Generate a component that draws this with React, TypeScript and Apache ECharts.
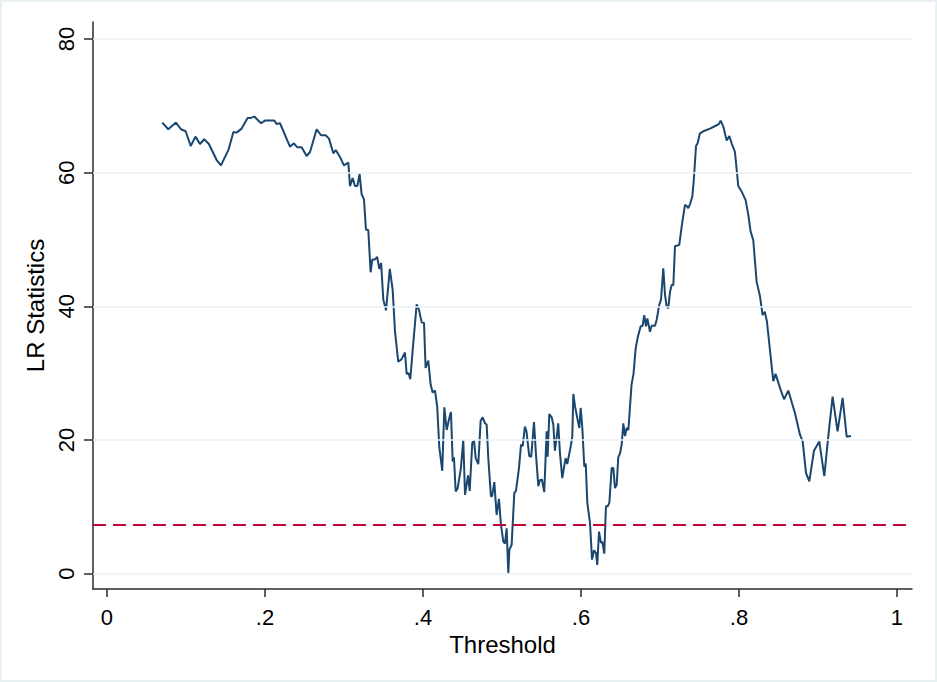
import React, { useEffect, useRef } from "react";
import * as echarts from "echarts";

const thresholds = [
  0.070, 0.0776, 0.0873, 0.0937, 0.0996, 0.106, 0.112, 0.1177, 0.123, 0.129,
  0.1388, 0.1443, 0.154, 0.160, 0.164, 0.1704, 0.178, 0.182, 0.1865, 0.195,
  0.200, 0.2118, 0.2147, 0.219, 0.2316, 0.2366, 0.241, 0.2464, 0.2527, 0.257,
  0.2654, 0.2709, 0.2768, 0.281, 0.2865, 0.2895, 0.2948, 0.2999, 0.3055, 0.3076,
  0.311, 0.3139, 0.3169, 0.3198, 0.3223, 0.3253, 0.3278, 0.3308, 0.3337, 0.3358,
  0.339, 0.342, 0.3447, 0.347, 0.3498, 0.3532, 0.358, 0.3616, 0.3646, 0.3687,
  0.3729, 0.3772, 0.3793, 0.3818, 0.3839, 0.3877, 0.392, 0.3949, 0.3983, 0.4013,
  0.4033, 0.4067, 0.4097, 0.4122, 0.4152, 0.418, 0.4206, 0.4244, 0.427, 0.430,
  0.4333, 0.4354, 0.4376, 0.4392, 0.4414, 0.4439, 0.448, 0.451, 0.4532, 0.457,
  0.4591, 0.4624, 0.4646, 0.4667, 0.470, 0.473, 0.4755, 0.4785, 0.4806, 0.4827,
  0.486, 0.4875, 0.4903, 0.4932, 0.4962, 0.4987, 0.5017, 0.5038, 0.5059, 0.508,
  0.5093, 0.5122, 0.5156, 0.5177, 0.5215, 0.5241, 0.5262, 0.529, 0.531, 0.5345,
  0.537, 0.5405, 0.543, 0.546, 0.548, 0.5505, 0.5535, 0.5565, 0.5578, 0.5599,
  0.5629, 0.565, 0.567, 0.5692, 0.5712, 0.5734, 0.5763, 0.5785, 0.5806, 0.5826,
  0.5869, 0.589, 0.5903, 0.5925, 0.5958, 0.5979, 0.5996, 0.6017, 0.6042, 0.606,
  0.608, 0.6114, 0.614, 0.6165, 0.619, 0.6206, 0.6228, 0.6253, 0.627, 0.6295,
  0.6316, 0.6338, 0.6359, 0.6388, 0.641, 0.643, 0.6452, 0.6472, 0.6494, 0.6515,
  0.6536, 0.6557, 0.6578, 0.66, 0.664, 0.6665, 0.6692, 0.6719, 0.6755, 0.678,
  0.6801, 0.6823, 0.684, 0.6873, 0.6894, 0.6937, 0.6958, 0.699, 0.7013, 0.7042,
  0.7063, 0.7084, 0.7105, 0.7127, 0.7148, 0.7169, 0.719, 0.7244, 0.7274, 0.7316,
  0.7338, 0.7358, 0.738, 0.7409, 0.743, 0.7456, 0.7476, 0.7506, 0.7548, 0.7633,
  0.7717, 0.7747, 0.7768, 0.7802, 0.7844, 0.7877, 0.7907, 0.7949, 0.7991, 0.8033,
  0.8084, 0.8118, 0.8147, 0.8181, 0.8223, 0.8266, 0.8299, 0.8327, 0.8354, 0.8434,
  0.8463, 0.8519, 0.857, 0.8624, 0.8709, 0.8772, 0.8806, 0.8848, 0.889, 0.8949,
  0.9016, 0.908, 0.913, 0.9185, 0.9248, 0.9312, 0.9363, 0.9418,
];

const lrStats = [
  67.5, 66.5, 67.5, 66.5, 66.2, 64.0, 65.4, 64.3, 65.0, 64.3,
  61.9, 61.1, 63.5, 66.1, 66.0, 66.6, 68.2, 68.2, 68.4, 67.4,
  67.8, 67.8, 67.3, 67.4, 63.9, 64.4, 63.8, 63.8, 62.5, 63.1,
  66.5, 65.6, 65.6, 65.1, 62.9, 63.4, 62.4, 61.1, 61.5, 58.0,
  59.2, 58.0, 58.0, 59.8, 56.8, 56.0, 51.5, 51.4, 45.1, 47.0,
  47.0, 47.4, 45.6, 46.5, 41.0, 39.4, 45.6, 42.5, 36.2, 31.7,
  32.1, 33.1, 29.9, 30.0, 29.1, 34.5, 40.3, 39.5, 37.6, 37.5,
  30.8, 31.9, 28.3, 27.1, 27.4, 25.0, 19.0, 15.4, 24.9, 21.5,
  23.3, 24.2, 16.8, 17.4, 12.3, 12.8, 15.8, 20.0, 11.8, 14.7,
  12.4, 19.6, 19.9, 17.3, 16.4, 22.9, 23.4, 22.5, 22.3, 17.2,
  11.6, 11.6, 13.7, 8.8, 11.2, 7.3, 4.8, 4.5, 6.8, 0.1,
  3.6, 4.3, 12.1, 12.4, 15.8, 19.3, 19.1, 22.0, 21.3, 17.6,
  17.5, 22.7, 17.9, 13.1, 14.0, 14.1, 12.2, 21.3, 17.5, 23.9,
  23.4, 22.3, 18.4, 20.4, 22.5, 18.0, 14.3, 15.9, 17.3, 16.4,
  19.0, 20.5, 26.9, 25.0, 23.0, 21.8, 24.8, 21.8, 16.0, 16.5,
  10.6, 7.6, 2.1, 3.5, 3.1, 1.3, 6.3, 4.6, 4.8, 3.0,
  10.1, 10.1, 10.6, 15.8, 15.8, 12.8, 13.3, 17.4, 18.0, 19.3,
  22.5, 20.6, 21.8, 21.5, 28.3, 29.9, 33.7, 35.4, 37.0, 37.1,
  38.7, 37.0, 38.2, 36.2, 37.1, 37.1, 38.0, 40.2, 41.0, 45.7,
  41.8, 40.0, 39.7, 42.2, 43.2, 43.2, 49.0, 49.2, 51.9, 55.2,
  55.0, 54.7, 55.3, 56.4, 59.2, 64.0, 64.4, 65.9, 66.2, 66.6,
  67.1, 67.3, 67.8, 66.9, 64.8, 65.5, 64.4, 63.1, 58.0, 57.2,
  55.9, 53.7, 51.2, 49.9, 43.7, 41.5, 38.7, 39.2, 37.7, 28.8,
  29.9, 27.8, 26.1, 27.4, 24.0, 20.8, 19.8, 15.1, 13.8, 18.4,
  19.8, 14.6, 20.5, 26.5, 21.3, 26.3, 20.5, 20.6,
];

const xTickValues = [0, 0.2, 0.4, 0.6, 0.8, 1];
const xTickLabels = ["0", ".2", ".4", ".6", ".8", "1"];
const yTickValues = [0, 20, 40, 60, 80];
const criticalValue = 7.37;

export default function App() {
  const ref = useRef<HTMLDivElement>(null);

  useEffect(() => {
    if (!ref.current) return;
    const chart = echarts.init(ref.current, null, { renderer: "svg" });
    const data = thresholds.map((t, i) => [t, lrStats[i]]);
    const axisColor = "#2a2a2a";
    const font = "Liberation Sans, Arial, sans-serif";

    chart.setOption({
      animation: false,
      backgroundColor: "#ffffff",
      graphic: [
        {
          type: "rect",
          shape: { x: 1, y: 1, width: 935, height: 680 },
          style: { fill: "none", stroke: "#EAF1F3", lineWidth: 2 },
          silent: true,
        },
      ],
      grid: { left: 93, right: 25, top: 22, bottom: 93, containLabel: false },
      xAxis: {
        type: "value",
        min: -0.0177,
        max: 1.019,
        name: "Threshold",
        nameLocation: "middle",
        nameGap: 35,
        nameTextStyle: { fontSize: 24, color: "#000", fontFamily: font },
        axisLine: { show: true, onZero: false, lineStyle: { color: axisColor, width: 1.5 } },
        axisTick: { show: true, customValues: xTickValues, length: 8, inside: false, lineStyle: { color: axisColor, width: 1.5 } },
        axisLabel: {
          customValues: xTickValues,
          margin: 17,
          fontSize: 22,
          color: "#000",
          fontFamily: font,
          formatter: (v: number) => {
            const idx = xTickValues.findIndex((t) => Math.abs(t - v) < 1e-9);
            return idx >= 0 ? xTickLabels[idx] : "";
          },
        },
        splitLine: { show: false },
      },
      yAxis: {
        type: "value",
        min: -2.29,
        max: 82.55,
        name: "LR Statistics",
        nameLocation: "middle",
        nameGap: 44,
        nameRotate: 90,
        nameTextStyle: { fontSize: 24, color: "#000", fontFamily: font },
        axisLine: { show: true, onZero: false, lineStyle: { color: axisColor, width: 1.5 } },
        axisTick: { show: true, customValues: yTickValues, length: 9, inside: false, lineStyle: { color: axisColor, width: 1.5 } },
        axisLabel: {
          customValues: yTickValues,
          rotate: 90,
          margin: 16,
          fontSize: 22,
          color: "#000",
          fontFamily: font,
        },
        splitLine: { show: false },
      },
      series: [
        {
          type: "line",
          data: [],
          z: 1,
          silent: true,
          markLine: {
            silent: true,
            symbol: "none",
            label: { show: false },
            lineStyle: { color: "#EAF1F3", width: 1.5, type: "solid" },
            data: yTickValues.map((v) => ({ yAxis: v })),
          },
        },
        {
          type: "line",
          data: [],
          z: 3,
          silent: true,
          markLine: {
            silent: true,
            symbol: "none",
            label: { show: false },
            lineStyle: { color: "#C10534", width: 2, type: [13, 7] },
            data: [{ yAxis: criticalValue }],
          },
        },
        {
          type: "line",
          data,
          z: 2,
          showSymbol: false,
          symbol: "none",
          lineStyle: { color: "#1A476F", width: 2 },
        },
      ],
    });

    return () => chart.dispose();
  }, []);

  return (
    <div
      ref={ref}
      style={{ position: "fixed", left: 0, top: 0, width: 937, height: 682 }}
    />
  );
}
